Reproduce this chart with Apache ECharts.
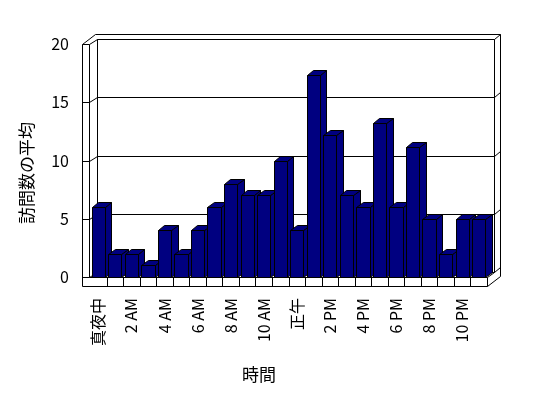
<!DOCTYPE html>
<html>
<head>
    <meta charset="utf-8">
    <title>訪問数の平均</title>
    <style>
        html, body { margin: 0; padding: 0; background: #fff; }
        #chart1 { width: 548px; height: 398px; }
    </style>
</head>
<body>
<div id="chart1"></div>
<script src="https://cdn.jsdelivr.net/npm/echarts@6/dist/echarts.min.js"></script>
<script type="text/javascript">
    // 時間帯（横軸）
    const hours = ['真夜中', '1 AM', '2 AM', '3 AM', '4 AM', '5 AM', '6 AM', '7 AM', '8 AM', '9 AM', '10 AM', '11 AM',
        '正午', '1 PM', '2 PM', '3 PM', '4 PM', '5 PM', '6 PM', '7 PM', '8 PM', '9 PM', '10 PM', '11 PM'];
    // 訪問数の平均
    const visits = [6, 2, 2, 1, 4, 2, 4, 6, 8, 7, 7, 10, 4, 17.3, 12.2, 7, 6, 13.2, 6, 11.2, 5, 2, 5, 5];
    // 縦軸の目盛り
    const yTicks = [0, 5, 10, 15, 20];

    const FONT = '"Noto Sans CJK JP", "Noto Sans", sans-serif';
    const DX = 6.5, DY = -5;     // 奥行き
    const WALL = 8, FLOOR = 8.5; // 壁・床の厚さ
    const lineStyle = { stroke: '#000', lineWidth: 1, fill: null };

    const p = (v) => Math.round(v) + 0.5;
    const pts = (arr) => arr.map(a => [p(a[0]), p(a[1])]);
    const line = (arr) => ({ type: 'polyline', shape: { points: pts(arr) }, style: lineStyle, silent: true });

    // 3D風の枠（壁・床・目盛線）
    function renderFrame(params, api) {
        const bw = api.size([1, 0])[0];
        const xL = api.coord([0, 0])[0] - bw / 2;
        const xR = api.coord([hours.length - 1, 0])[0] + bw / 2;
        const y0 = api.coord([0, 0])[1];
        const yT = api.coord([0, yTicks[yTicks.length - 1]])[1];
        const children = [];
        children.push({
            type: 'polygon',
            shape: { points: pts([[xL - WALL, yT], [xL - WALL + 2 * DX, yT + 2 * DY], [xR + 2 * DX, yT + 2 * DY],
                    [xR + 2 * DX, y0 + FLOOR + 2 * DY], [xR, y0 + FLOOR], [xL - WALL, y0 + FLOOR]]) },
            style: { fill: '#fff', stroke: '#000', lineWidth: 1 }, silent: true
        });
        children.push(line([[xL + DX, y0 + DY], [xL + DX, yT + DY], [xR + DX, yT + DY], [xR + DX, y0 + DY]]));
        children.push(line([[xL - 1, y0], [xL - 1, yT]]));
        yTicks.forEach(v => {
            const y = api.coord([0, v])[1];
            children.push(line([[xL - WALL, y], [xL - 1, y], [xL + DX, y + DY], [xR + DX, y + DY], [xR + 2 * DX, y + 2 * DY]]));
        });
        // 床
        children.push(line([[xL - 1, y0], [xR, y0], [xR, y0 + FLOOR]]));
        children.push(line([[xR, y0], [xR + DX, y0 + DY]]));
        for (let i = 1; i < hours.length; i++) {
            const x = xL + bw * i;
            children.push(line([[x, y0], [x, y0 + FLOOR]]));
        }
        return { type: 'group', children: children };
    }

    // 3D風の棒
    function renderBar(params, api) {
        const bw = api.size([1, 0])[0];
        const hw = bw * 0.4;
        const top = api.coord([api.value(0), api.value(1)]);
        const y0 = api.coord([api.value(0), 0])[1];
        const c = top[0], yv = top[1];
        const st = { fill: '#000080', stroke: '#000', lineWidth: 1 };
        return {
            type: 'group',
            children: [
                { type: 'polygon', shape: { points: pts([[c + hw, yv], [c + hw + DX, yv + DY], [c + hw + DX, y0 + DY], [c + hw, y0]]) }, style: st },
                { type: 'polygon', shape: { points: pts([[c - hw, yv], [c - hw + DX, yv + DY], [c + hw + DX, yv + DY], [c + hw, yv]]) }, style: st },
                { type: 'polygon', shape: { points: pts([[c - hw, yv], [c + hw, yv], [c + hw, y0], [c - hw, y0]]) }, style: st }
            ]
        };
    }

    let myChart1 = echarts.init(document.getElementById('chart1'));
    myChart1.setOption({
        animation: false,
        backgroundColor: '#fff',
        grid: { left: 90, right: 61, top: 44, bottom: 121 },
        xAxis: {
            type: 'category',
            data: hours,
            axisLine: { show: false },
            axisTick: { show: false },
            axisLabel: {
                interval: 1,
                rotate: 90,
                margin: 21,
                color: '#000',
                fontSize: 16,
                fontFamily: FONT
            }
        },
        yAxis: {
            type: 'value',
            min: yTicks[0],
            max: yTicks[yTicks.length - 1],
            interval: yTicks[1] - yTicks[0],
            axisLine: { show: false },
            axisTick: { show: false },
            splitLine: { show: false },
            axisLabel: { margin: 21, color: '#000', fontSize: 16, fontFamily: FONT }
        },
        graphic: [
            { type: 'text', x: 27, y: 173, rotation: Math.PI / 2,
              style: { text: '訪問数の平均', align: 'center', verticalAlign: 'middle', fill: '#000', font: '17px ' + FONT } },
            { type: 'text', x: 259, y: 375,
              style: { text: '時間', align: 'center', verticalAlign: 'middle', fill: '#000', font: '17px ' + FONT } }
        ],
        series: [
            {
                type: 'custom',
                name: 'frame',
                renderItem: renderFrame,
                data: [[0, 0]],
                silent: true,
                z: 1
            },
            {
                type: 'custom',
                name: '訪問数の平均',
                renderItem: renderBar,
                data: visits.map((v, i) => [i, v]),
                z: 2
            }
        ]
    });
</script>
</body>
</html>
